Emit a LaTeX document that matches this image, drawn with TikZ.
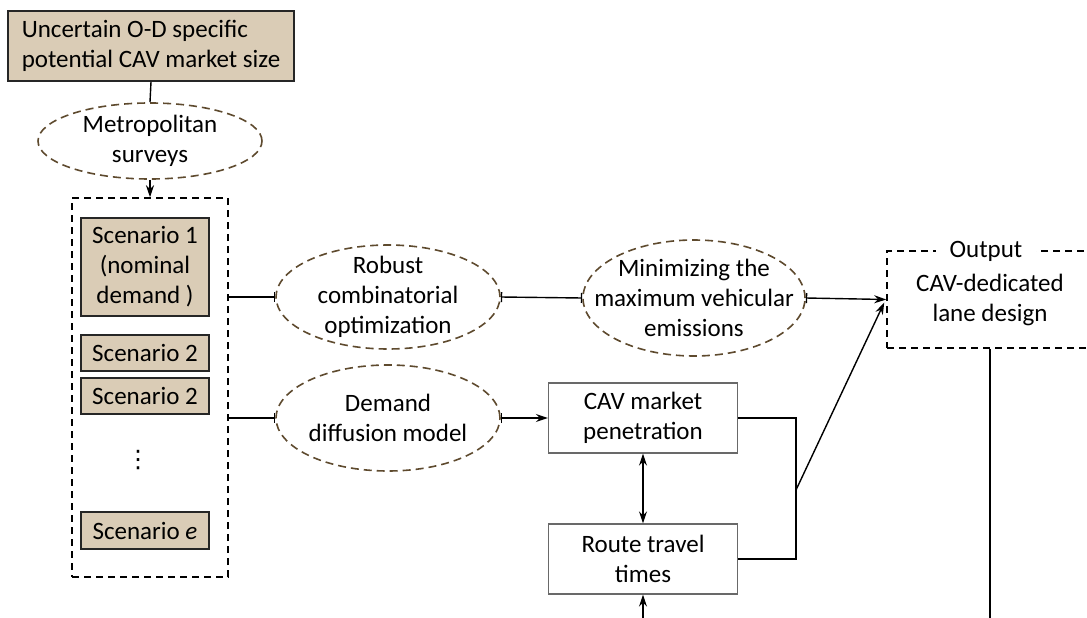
\documentclass[tikz,border=0pt]{standalone}
\usepackage{fontspec}
\setmainfont{Carlito}
\newfontfamily\symfont{DejaVu Sans}
\usetikzlibrary{shapes.geometric,arrows.meta,calc}
\definecolor{sand}{RGB}{218,204,182}
\definecolor{dashbrown}{RGB}{94,74,46}
\definecolor{boxgray}{RGB}{105,105,105}
\begin{document}
\begin{tikzpicture}[x=1pt,y=-1pt,
  txt/.style={font=\fontsize{25}{30}\selectfont, align=center, text=black},
  sandbox/.style={txt, draw=black!85, line width=1.6pt, fill=sand, inner sep=0pt},
  oval/.style={ellipse, draw=dashbrown, dash pattern=on 8pt off 5pt, line width=1.6pt, inner sep=0pt,
    label={[txt]center:#1}},
  plainbox/.style={txt, draw=boxgray, line width=1.3pt, inner sep=0pt},
  groupbox/.style={draw=black, dash pattern=on 7pt off 5pt, line width=1.5pt, inner sep=0pt},
  link/.style={line width=1.4pt, draw=black},
  arr/.style={link, -{Stealth[length=12pt,width=8pt]}},
  barlink/.style={link, -{Bar[width=10pt,line width=1.4pt]}},
  bararr/.style={link, {Bar[width=10pt,line width=1.4pt]}-{Stealth[length=12pt,width=8pt]}},
  barbar/.style={link, {Bar[width=10pt,line width=1.4pt]}-{Bar[width=10pt,line width=1.4pt]}},
  ]
\useasboundingbox (0,0) rectangle (1087,618);
\clip (0,0) rectangle (1087,618);

% input and survey
\node[sandbox, align=left, minimum width=286pt, minimum height=70pt] (market) at (151,46)
  {Uncertain O-D specific\\potential CAV market size};
\node[oval={Metropolitan\\surveys}, minimum width=224pt, minimum height=76pt] (metro) at (150,141) {};

% scenario group
\node[groupbox, minimum width=156pt, minimum height=379pt] (scen) at (150,387.5) {};
\node[sandbox, minimum width=128pt, minimum height=98pt] (s1) at (145,267)
  {Scenario 1\\(nominal\\demand )};
\node[sandbox, minimum width=128pt, minimum height=36pt] (s2) at (145,353) {Scenario 2};
\node[sandbox, minimum width=128pt, minimum height=36pt] (s3) at (145,396) {Scenario 2};
\node[font=\symfont\fontsize{24}{26}\selectfont, inner sep=0pt] (dots) at (138,460) {⋮};
\node[sandbox, minimum width=128pt, minimum height=37pt] (se) at (145,530.5) {Scenario \textit{e}};

% methods
\node[oval={Robust\\combinatorial\\optimization}, minimum width=224pt, minimum height=104pt] (robust) at (388,297) {};
\node[oval={Minimizing the\\maximum vehicular\\emissions}, minimum width=222pt, minimum height=116pt] (mini) at (694,298) {};
\node[oval={Demand\\diffusion model}, minimum width=224pt, minimum height=106pt] (demand) at (388,418) {};
\node[plainbox, minimum width=189pt, minimum height=70pt] (cav) at (643,418)
  {CAV market\\penetration};
\node[plainbox, minimum width=189pt, minimum height=70pt] (route) at (643,559)
  {Route travel\\times};

% output
\node[groupbox, txt, minimum width=206pt, minimum height=97pt] (out) at (990,299.5)
  {CAV-dedicated\\lane design};
\node[txt, fill=white, inner xsep=14pt, inner ysep=2pt] (outlabel) at (986,251) {Output};

% connectors
\coordinate (jn) at (796,490);
\coordinate (bin) at (643,625);
\coordinate (bout) at (990,625);

\draw[link] (market.south) -- (metro.north);
\draw[arr] (metro.south) -- (scen.north);
\draw[barlink] (scen.east |- robust.west) -- (robust.west);
\draw[barlink] (scen.east |- demand.west) -- (demand.west);
\draw[barbar] (robust.east) -- (mini.west);
\draw[bararr] (mini.east) -- (out.west);
\draw[bararr] (demand.east) -- (cav.west);
\draw[link] (cav.east) -| (jn) |- (route.east);
\draw[arr] (jn) -- ($(out.west)+(-2,3)$);
\draw[link, {Stealth[length=12pt,width=8pt]}-{Stealth[length=12pt,width=8pt]}] (cav.south) -- (route.north);
\draw[arr] (bin) -- (route.south);
\draw[link] (out.south) -- (bout);
\end{tikzpicture}
\end{document}
